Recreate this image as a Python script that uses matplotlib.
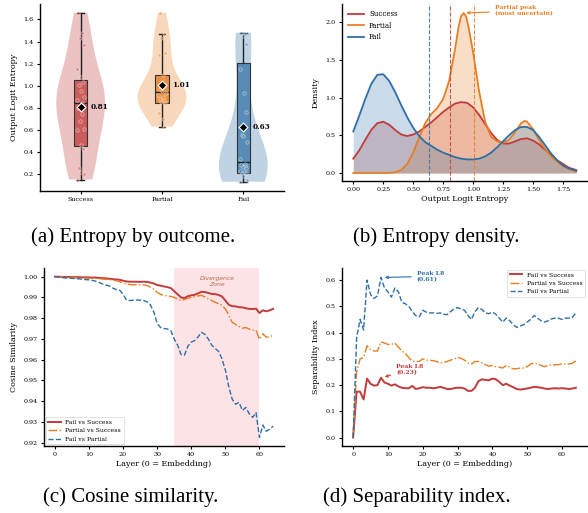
import numpy as np
import matplotlib
matplotlib.use("Agg")
import matplotlib.pyplot as plt

plt.rcParams['font.family'] = ['DejaVu Serif']
plt.rcParams['font.size'] = 5

# ---- data ----
groups = ["Success", "Partial", "Fail"]
red = "#c23b3b"
orange = "#e67e22"
blue = "#2f6fa7"
line_cols = [red, orange, blue]
box_cols = ["#cd5c5c", "#e8903f", "#588cb6"]

# per-sample output entropy (strip points)
ent_success = [1.66, 1.48, 1.43, 1.37, 1.15, 1.08, 1.03, 1.01, 0.95, 0.90, 0.87,
               0.84, 0.80, 0.74, 0.68, 0.61, 0.60, 0.46, 0.43, 0.25, 0.22, 0.20, 0.15]
ent_partial = [1.66, 1.47, 1.43, 1.30, 1.28, 1.10, 1.00, 0.97, 0.95, 0.93, 0.92,
               0.90, 0.88, 0.86, 0.85, 0.84, 0.75, 0.70, 0.63]
ent_fail = [1.48, 1.47, 1.45, 1.38, 1.15, 0.93, 0.76, 0.55, 0.54, 0.49, 0.34, 0.29, 0.28,
            0.27, 0.26, 0.25, 0.23, 0.22, 0.21, 0.20, 0.18, 0.15, 0.13]
ent_means = [0.81, 1.01, 0.63]
# box stats: whislo, q1, med, q3, whishi
box_stats = [[0.15, 0.45, 0.84, 1.05, 1.66],
             [0.63, 0.84, 0.94, 1.10, 1.47],
             [0.13, 0.21, 0.31, 1.21, 1.48]]

# density curves (b)
dens_x = [0.0, 0.05, 0.1, 0.15, 0.2, 0.25, 0.3, 0.35, 0.4, 0.45, 0.5, 0.55, 0.6, 0.65,
          0.7, 0.75, 0.8, 0.85, 0.9, 0.95, 1.0, 1.05, 1.1, 1.15, 1.2, 1.25, 1.3, 1.35,
          1.4, 1.45, 1.5, 1.55, 1.6, 1.65, 1.7, 1.75, 1.8, 1.86]
dens_success = [0.19, 0.30, 0.44, 0.57, 0.66, 0.68, 0.64, 0.57, 0.51, 0.49, 0.51, 0.55,
                0.61, 0.67, 0.74, 0.81, 0.87, 0.92, 0.94, 0.93, 0.87, 0.77, 0.65, 0.53,
                0.44, 0.39, 0.39, 0.42, 0.45, 0.46, 0.43, 0.38, 0.31, 0.24, 0.17, 0.12,
                0.07, 0.04]
dens_fail = [0.55, 0.76, 0.98, 1.18, 1.30, 1.31, 1.22, 1.07, 0.90, 0.74, 0.60, 0.49,
             0.41, 0.36, 0.31, 0.27, 0.24, 0.21, 0.19, 0.18, 0.18, 0.19, 0.22, 0.27,
             0.34, 0.42, 0.50, 0.57, 0.61, 0.61, 0.57, 0.48, 0.37, 0.26, 0.17, 0.10,
             0.06, 0.03]
dens_x_partial = [0.0, 0.1, 0.2, 0.3, 0.35, 0.4, 0.45, 0.5, 0.55, 0.6, 0.65, 0.7, 0.75,
                  0.8, 0.85, 0.88, 0.9, 0.92, 0.94, 0.96, 1.0, 1.05, 1.1, 1.15, 1.2,
                  1.25, 1.3, 1.35, 1.4, 1.43, 1.45, 1.5, 1.55, 1.6, 1.65, 1.7, 1.75,
                  1.8, 1.86]
dens_partial = [0.0, 0.0, 0.0, 0.0, 0.01, 0.04, 0.12, 0.27, 0.47, 0.66, 0.78, 0.86,
                0.98, 1.22, 1.65, 1.95, 2.08, 2.12, 2.08, 1.95, 1.60, 1.08, 0.68, 0.48,
                0.42, 0.40, 0.44, 0.54, 0.66, 0.69, 0.68, 0.58, 0.44, 0.32, 0.22, 0.15,
                0.09, 0.05, 0.02]

# cosine similarity per layer (c)
layers = list(range(65))
cos_fail_success = [1.0000, 1.0000, 0.9999, 0.9999, 0.9999, 0.9998, 0.9998, 0.9998, 0.9997, 0.9997,
                    0.9997, 0.9996, 0.9996, 0.9994, 0.9993, 0.9992, 0.9990, 0.9988, 0.9987, 0.9985,
                    0.9981, 0.9977, 0.9976, 0.9976, 0.9976, 0.9975, 0.9976, 0.9975, 0.9972, 0.9967,
                    0.9960, 0.9957, 0.9953, 0.9950, 0.9945, 0.9930, 0.9915, 0.9900, 0.9897, 0.9906,
                    0.9910, 0.9913, 0.9920, 0.9927, 0.9926, 0.9922, 0.9917, 0.9916, 0.9912, 0.9905,
                    0.9885, 0.9865, 0.9858, 0.9857, 0.9853, 0.9852, 0.9848, 0.9845, 0.9844, 0.9846,
                    0.9825, 0.9838, 0.9833, 0.9838, 0.9845]
cos_partial_success = [1.0000, 0.9999, 0.9998, 0.9997, 0.9996, 0.9995, 0.9995, 0.9994, 0.9994, 0.9993,
                       0.9993, 0.9992, 0.9991, 0.9990, 0.9989, 0.9987, 0.9986, 0.9984, 0.9980, 0.9976,
                       0.9970, 0.9965, 0.9962, 0.9961, 0.9962, 0.9961, 0.9960, 0.9958, 0.9950, 0.9940,
                       0.9925, 0.9915, 0.9910, 0.9907, 0.9905, 0.9900, 0.9893, 0.9885, 0.9890, 0.9897,
                       0.9900, 0.9903, 0.9908, 0.9910, 0.9903, 0.9893, 0.9885, 0.9877, 0.9870, 0.9862,
                       0.9845, 0.9815, 0.9780, 0.9770, 0.9760, 0.9752, 0.9755, 0.9748, 0.9742, 0.9742,
                       0.9698, 0.9725, 0.9708, 0.9712, 0.9717]
cos_fail_partial = [1.0000, 0.9998, 0.9996, 0.9994, 0.9993, 0.9992, 0.9991, 0.9990, 0.9988, 0.9986,
                    0.9985, 0.9982, 0.9978, 0.9972, 0.9965, 0.9960, 0.9955, 0.9945, 0.9938, 0.9935,
                    0.9915, 0.9888, 0.9885, 0.9887, 0.9888, 0.9887, 0.9885, 0.9880, 0.9865, 0.9830,
                    0.9775, 0.9755, 0.9750, 0.9748, 0.9740, 0.9700, 0.9670, 0.9625, 0.9622, 0.9665,
                    0.9685, 0.9692, 0.9710, 0.9732, 0.9722, 0.9700, 0.9670, 0.9655, 0.9640, 0.9605,
                    0.9550, 0.9470, 0.9410, 0.9385, 0.9395, 0.9355, 0.9370, 0.9340, 0.9322, 0.9345,
                    0.9225, 0.9285, 0.9255, 0.9265, 0.9280]

# separability index per layer (d)
sep_fail_success = [0.0, 0.175, 0.175, 0.145, 0.225, 0.205, 0.198, 0.200, 0.228, 0.210,
                    0.205, 0.198, 0.203, 0.195, 0.190, 0.188, 0.188, 0.197, 0.185, 0.188,
                    0.192, 0.190, 0.190, 0.188, 0.190, 0.193, 0.190, 0.185, 0.185, 0.188,
                    0.190, 0.190, 0.187, 0.178, 0.178, 0.190, 0.215, 0.222, 0.220, 0.218,
                    0.225, 0.222, 0.212, 0.200, 0.205, 0.198, 0.192, 0.185, 0.183, 0.185,
                    0.187, 0.190, 0.193, 0.192, 0.190, 0.187, 0.185, 0.187, 0.188, 0.187,
                    0.188, 0.187, 0.185, 0.187, 0.190]
sep_partial_success = [0.0, 0.25, 0.30, 0.305, 0.35, 0.335, 0.330, 0.330, 0.365, 0.360,
                       0.355, 0.355, 0.360, 0.345, 0.330, 0.320, 0.305, 0.290, 0.290, 0.290,
                       0.300, 0.295, 0.295, 0.293, 0.290, 0.283, 0.287, 0.290, 0.295, 0.300,
                       0.305, 0.302, 0.295, 0.285, 0.280, 0.290, 0.290, 0.285, 0.278, 0.272,
                       0.275, 0.270, 0.268, 0.265, 0.275, 0.268, 0.262, 0.262, 0.265, 0.265,
                       0.270, 0.280, 0.285, 0.280, 0.275, 0.270, 0.275, 0.278, 0.277, 0.278,
                       0.280, 0.280, 0.280, 0.283, 0.292]
sep_fail_partial = [0.0, 0.38, 0.45, 0.41, 0.60, 0.545, 0.530, 0.540, 0.610, 0.570,
                    0.555, 0.535, 0.570, 0.555, 0.515, 0.510, 0.500, 0.480, 0.465, 0.460,
                    0.485, 0.478, 0.475, 0.475, 0.473, 0.475, 0.470, 0.468, 0.480, 0.490,
                    0.495, 0.490, 0.485, 0.465, 0.450, 0.480, 0.495, 0.488, 0.475, 0.472,
                    0.478, 0.470, 0.455, 0.440, 0.455, 0.445, 0.430, 0.420, 0.425, 0.430,
                    0.440, 0.450, 0.465, 0.455, 0.445, 0.440, 0.445, 0.452, 0.455, 0.455,
                    0.450, 0.455, 0.455, 0.458, 0.475]
pair_labels = ["Fail vs Success", "Partial vs Success", "Fail vs Partial"]

W, H = 588, 513
fig = plt.figure(figsize=(W / 100, H / 100), dpi=100)

TICK = 4.6
LAB = 5.8
SMALL = 4.4


def px_axes(l, t, r, b):
    return fig.add_axes([l / W, 1 - b / H, (r - l) / W, (b - t) / H])


def style(ax):
    for s in ["top", "right"]:
        ax.spines[s].set_visible(False)
    for s in ["left", "bottom"]:
        ax.spines[s].set_linewidth(1.0)
    ax.tick_params(labelsize=TICK, length=2.5, width=0.8, pad=2)


# ---- (a) violins + boxes ----
ax = px_axes(40, 4, 284, 191)
style(ax)
samples = [ent_success, ent_partial, ent_fail]
pos = [0, 1, 2]
vp = ax.violinplot(samples, positions=pos, widths=0.6, showextrema=False)
for body, c in zip(vp["bodies"], line_cols):
    body.set_facecolor(c)
    body.set_edgecolor("none")
    body.set_alpha(0.3)
stats = []
for st in box_stats:
    stats.append(dict(whislo=st[0], q1=st[1], med=st[2], q3=st[3], whishi=st[4], fliers=[]))
bp = ax.bxp(stats, positions=pos, widths=0.16, patch_artist=True, showfliers=False,
            boxprops=dict(edgecolor="#333333", linewidth=0.8),
            medianprops=dict(color="#222222", linewidth=1.0),
            whiskerprops=dict(color="#222222", linewidth=1.0),
            capprops=dict(color="#222222", linewidth=1.0))
for patch, c in zip(bp["boxes"], box_cols):
    patch.set_facecolor(c)
jit = [-0.03, 0.02, -0.01, 0.035, -0.04, 0.01, 0.03, -0.02, 0.0, 0.045, -0.045, 0.015]
for i, (vals, c) in enumerate(zip(samples, box_cols)):
    xs = [i + jit[k % len(jit)] for k in range(len(vals))]
    ax.scatter(xs, vals, s=6, facecolor=c, edgecolor="white", linewidth=0.5,
               alpha=0.55, zorder=4)
for i, m in enumerate(ent_means):
    ax.scatter([i], [m], marker="D", s=20, color="black", edgecolor="white",
               linewidth=0.8, zorder=6)
    ax.text(i + 0.12, m, f"{m:.2f}", fontsize=5.2, fontweight="bold", va="center")
ax.set_xlim(-0.5, 2.5)
ax.set_ylim(0.046, 1.74)
ax.set_xticks(pos)
ax.set_xticklabels(groups)
ax.set_yticks(np.arange(0.2, 1.61, 0.2))
ax.yaxis.set_major_formatter(matplotlib.ticker.FormatStrFormatter("%.1f"))
ax.set_ylabel("Output Logit Entropy", fontsize=LAB)

# ---- (b) density ----
ax = px_axes(342, 4, 587, 181)
style(ax)
curves = [(dens_x, dens_success), (dens_x_partial, dens_partial), (dens_x, dens_fail)]
for (xs, ys), c, name in zip(curves, line_cols, groups):
    ax.fill_between(xs, ys, color=c, alpha=0.25, linewidth=0)
    ax.plot(xs, ys, color=c, lw=1.3, label=name)
for m, c in zip(ent_means, line_cols):
    ax.axvline(m, color=c, ls="--", lw=0.8, alpha=0.85)
ax.annotate("Partial peak\n(most uncertain)", xy=(0.92, 2.12), xytext=(1.18, 2.15),
            fontsize=SMALL, fontweight="bold", color=orange, va="center",
            arrowprops=dict(arrowstyle="->", color=orange, lw=0.8))
ax.set_xlim(-0.094, 1.95)
ax.set_ylim(-0.106, 2.24)
ax.set_xticks(np.arange(0, 1.76, 0.25))
ax.xaxis.set_major_formatter(matplotlib.ticker.FormatStrFormatter("%.2f"))
ax.set_yticks([0, 0.5, 1.0, 1.5, 2.0])
ax.yaxis.set_major_formatter(matplotlib.ticker.FormatStrFormatter("%.1f"))
ax.set_xlabel("Output Logit Entropy", fontsize=LAB, labelpad=2)
ax.set_ylabel("Density", fontsize=LAB)
ax.legend(loc="upper left", frameon=False, fontsize=5, handlelength=2.2,
          borderaxespad=0.5)

# ---- (c) cosine similarity ----
ax = px_axes(44, 268, 284, 446)
style(ax)
ax.axvspan(35, 60, color="#fde3e6", lw=0, zorder=0)
ax.text(47.5, 0.9975, "Divergence\nZone", family="DejaVu Sans", style="italic",
        fontsize=SMALL, color="#b86a45", ha="center", va="center")
ax.plot(layers, cos_fail_success, color=red, lw=1.4, label=pair_labels[0])
ax.plot(layers, cos_partial_success, color=orange, lw=1.0, ls="-.", label=pair_labels[1])
ax.plot(layers, cos_fail_partial, color=blue, lw=1.0, ls="--", label=pair_labels[2])
ax.set_xlim(-3.2, 67.2)
ax.set_ylim(0.9184, 1.0042)
ax.set_xticks(range(0, 61, 10))
ax.set_yticks(np.arange(0.92, 1.0001, 0.01))
ax.yaxis.set_major_formatter(matplotlib.ticker.FormatStrFormatter("%.2f"))
ax.set_xlabel("Layer (0 = Embedding)", fontsize=LAB, labelpad=2)
ax.set_ylabel("Cosine Similarity", fontsize=LAB)
leg = ax.legend(loc="lower left", fontsize=SMALL, handlelength=2.0, fancybox=False,
                borderaxespad=0.3)
leg.get_frame().set_linewidth(0.5)

# ---- (d) separability ----
ax = px_axes(342, 268, 587, 446)
style(ax)
ax.plot(layers, sep_fail_success, color=red, lw=1.4, label=pair_labels[0])
ax.plot(layers, sep_partial_success, color=orange, lw=1.0, ls="-.", label=pair_labels[1])
ax.plot(layers, sep_fail_partial, color=blue, lw=1.0, ls="--", label=pair_labels[2])
ax.annotate("Peak L8\n(0.61)", xy=(8.3, 0.61), xytext=(18.3, 0.614), fontsize=SMALL,
            fontweight="bold", color=blue, va="center",
            arrowprops=dict(arrowstyle="->", color=blue, lw=0.8))
ax.annotate("Peak L8\n(0.23)", xy=(8.3, 0.228), xytext=(12.3, 0.26), fontsize=SMALL,
            fontweight="bold", color=red, va="center",
            arrowprops=dict(arrowstyle="->", color=red, lw=0.8))
ax.set_xlim(-3.2, 67.2)
ax.set_ylim(-0.032, 0.646)
ax.set_xticks(range(0, 61, 10))
ax.set_yticks(np.arange(0, 0.61, 0.1))
ax.yaxis.set_major_formatter(matplotlib.ticker.FormatStrFormatter("%.1f"))
ax.set_xlabel("Layer (0 = Embedding)", fontsize=LAB, labelpad=2)
ax.set_ylabel("Separability Index", fontsize=LAB)
leg = ax.legend(loc="upper right", fontsize=SMALL, handlelength=2.0, fancybox=False,
                borderaxespad=0.3)
leg.get_frame().set_linewidth(0.5)

# captions
cap = dict(family="Liberation Serif", fontsize=15, ha="center", va="center")
fig.text(133 / W, 1 - 237 / H, "(a) Entropy by outcome.", **cap)
fig.text(436 / W, 1 - 237 / H, "(b) Entropy density.", **cap)
fig.text(131 / W, 1 - 497 / H, "(c) Cosine similarity.", **cap)
fig.text(417 / W, 1 - 497 / H, "(d) Separability index.", **cap)

fig.savefig("out.png", dpi=100)
